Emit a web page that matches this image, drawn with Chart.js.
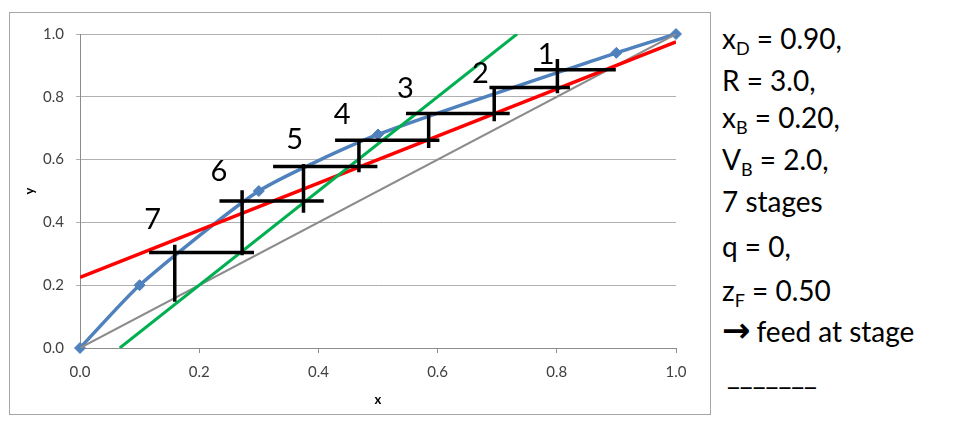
<!DOCTYPE html>
<html>
<head>
<meta charset="utf-8">
<script src="https://cdn.jsdelivr.net/npm/chart.js@4.4.1/dist/chart.umd.min.js"></script>
<style>
html, body { margin: 0; padding: 0; background: #fff; }
body { width: 955px; height: 428px; position: relative; overflow: hidden; font-family: Lato, "Open Sans", sans-serif; }
#frame { position: absolute; left: 9px; top: 12px; width: 702px; height: 403px; border: 1px solid #a6a6a6; box-sizing: border-box; }
#frame canvas { display: block; }
.note { position: absolute; left: 722px; font-size: 28px; line-height: 34px; color: #000; white-space: nowrap; }
.note sub { font-size: 18px; line-height: 0; vertical-align: -6px; }
.arrow { font-family: "DejaVu Sans", sans-serif; font-weight: bold; font-size: 34px; line-height: 0; margin-right: 6px; }
.rule { margin-left: 5px; }
</style>
</head>
<body>
<div id="frame"><canvas id="mt-chart" width="700" height="401"></canvas></div>
<div id="notes"></div>

<script>
/* McCabe-Thiele diagram */

// equilibrium curve
const eqX = [0, 0.1, 0.3, 0.5, 0.9, 1.0];
const eqY = [0, 0.2, 0.5, 0.68, 0.94, 1.0];

// y = x diagonal
const diagX = [0, 1];
const diagY = [0, 1];

// rectifying operating line
const rectX = [0, 1.0];
const rectY = [0.225, 0.975];

// stripping operating line
const stripX = [0.0667, 0.7333];
const stripY = [0, 1.0];

// stage crosses: horizontal and vertical bars
const stageHy     = [0.886, 0.830, 0.747, 0.662, 0.578, 0.468, 0.304];
const stageHleft  = [0.762, 0.687, 0.547, 0.428, 0.324, 0.234, 0.116];
const stageHright = [0.899, 0.822, 0.721, 0.603, 0.499, 0.409, 0.292];
const stageVx      = [0.801, 0.695, 0.585, 0.468, 0.375, 0.272, 0.159];
const stageVtop    = [0.920, 0.835, 0.743, 0.663, 0.586, 0.502, 0.329];
const stageVbottom = [0.811, 0.722, 0.637, 0.560, 0.431, 0.295, 0.147];

// stage numbers
const stageNames  = ['1', '2', '3', '4', '5', '6', '7'];
const stageLabelX = [0.782, 0.672, 0.546, 0.440, 0.360, 0.233, 0.122];
const stageLabelY = [0.937, 0.877, 0.831, 0.748, 0.666, 0.566, 0.412];

const axisTicks = [0, 0.2, 0.4, 0.6, 0.8, 1.0];

// side notes
const noteLines = [
    'x<sub>D</sub> = 0.90,',
    'R = 3.0,',
    'x<sub>B</sub> = 0.20,',
    'V<sub>B</sub> = 2.0,',
    '7 stages',
    'q = 0,',
    'z<sub>F</sub> = 0.50',
    '<span class="arrow">\u2192</span>feed at stage',
    '<span class="rule">_______</span>'
];
const noteBaselines = [49, 91, 128, 170, 212, 257, 301, 342, 385];

function pts(xs, ys) {
    return xs.map((x, i) => ({ x: x, y: ys[i] }));
}

function stepPoints() {
    const out = [];
    for (let i = 0; i < stageHy.length; i++) {
        out.push({ x: stageHleft[i], y: stageHy[i] });
        out.push({ x: stageHright[i], y: stageHy[i] });
        out.push({ x: stageHright[i], y: null });
        out.push({ x: stageVx[i], y: stageVtop[i] });
        out.push({ x: stageVx[i], y: stageVbottom[i] });
        out.push({ x: stageVx[i], y: null });
    }
    return out;
}

const stageLabelPlugin = {
    id: 'stageLabels',
    afterDatasetsDraw(chart) {
        const { ctx, scales } = chart;
        ctx.save();
        ctx.font = '29px Lato';
        ctx.fillStyle = '#000';
        ctx.textAlign = 'center';
        ctx.textBaseline = 'alphabetic';
        stageNames.forEach((t, i) => {
            ctx.fillText(t, scales.x.getPixelForValue(stageLabelX[i]),
                scales.y.getPixelForValue(stageLabelY[i]) + 10.5);
        });
        ctx.restore();
    }
};

const tickFont = { family: 'Lato', size: 15 };

new Chart(document.getElementById('mt-chart').getContext('2d'), {
    type: 'line',
    data: {
        datasets: [
            {
                label: 'Stages',
                data: stepPoints(),
                borderColor: '#000',
                borderWidth: 3.5,
                pointRadius: 0,
                spanGaps: false,
                fill: false,
                order: 0,
            },
            {
                label: 'Stripping',
                data: pts(stripX, stripY),
                borderColor: '#00b050',
                borderWidth: 3,
                pointRadius: 0,
                fill: false,
                order: 1,
            },
            {
                label: 'Rectifying',
                data: pts(rectX, rectY),
                borderColor: '#ff0000',
                borderWidth: 3.5,
                pointRadius: 0,
                fill: false,
                order: 2,
            },
            {
                label: 'y = x',
                data: pts(diagX, diagY),
                borderColor: '#8c8c8c',
                borderWidth: 2,
                pointRadius: 0,
                fill: false,
                order: 3,
            },
            {
                label: 'Equilibrium',
                data: pts(eqX, eqY),
                borderColor: '#4f81bd',
                backgroundColor: '#4f81bd',
                borderWidth: 3.5,
                pointStyle: 'rectRot',
                pointRadius: 5.5,
                pointBorderWidth: 1,
                tension: 0.2,
                fill: false,
                clip: false,
                order: 4,
            },
        ]
    },
    options: {
        responsive: false,
        animation: false,
        events: [],
        layout: { padding: { left: 0, top: 20, right: 34, bottom: 0 } },
        scales: {
            x: {
                type: 'linear',
                min: 0,
                max: 1,
                afterBuildTicks: s => { s.ticks = axisTicks.map(v => ({ value: v })); },
                afterFit: s => { s.height = 66; },
                ticks: { padding: 10, color: '#404040', font: tickFont, maxRotation: 0,
                    callback: v => v.toFixed(1) },
                grid: { drawOnChartArea: false, tickLength: 5, color: '#8c8c8c' },
                border: { color: '#8c8c8c' },
                title: { display: true, text: 'x', color: '#000',
                    font: { family: 'Lato', size: 13, weight: 'bold' }, padding: { top: 0, bottom: 6 } }
            },
            y: {
                type: 'linear',
                min: 0,
                max: 1,
                afterBuildTicks: s => { s.ticks = axisTicks.map(v => ({ value: v })); },
                afterFit: s => { s.width = 70; },
                ticks: { padding: 12, color: '#404040', font: tickFont,
                    callback: v => v.toFixed(1) },
                grid: { tickLength: 4, color: '#b0b0b0' },
                border: { color: '#8c8c8c' },
                title: { display: true, text: 'y', color: '#000',
                    font: { family: 'Lato', size: 13, weight: 'bold' }, padding: { top: 12, bottom: 0 } }
            }
        },
        plugins: { legend: { display: false }, tooltip: { enabled: false } }
    },
    plugins: [stageLabelPlugin]
});

const notes = document.getElementById('notes');
noteLines.forEach((html, i) => {
    const d = document.createElement('div');
    d.className = 'note';
    d.style.top = (noteBaselines[i] - 28) + 'px';
    d.innerHTML = html;
    notes.appendChild(d);
});
</script>
</body>
</html>
